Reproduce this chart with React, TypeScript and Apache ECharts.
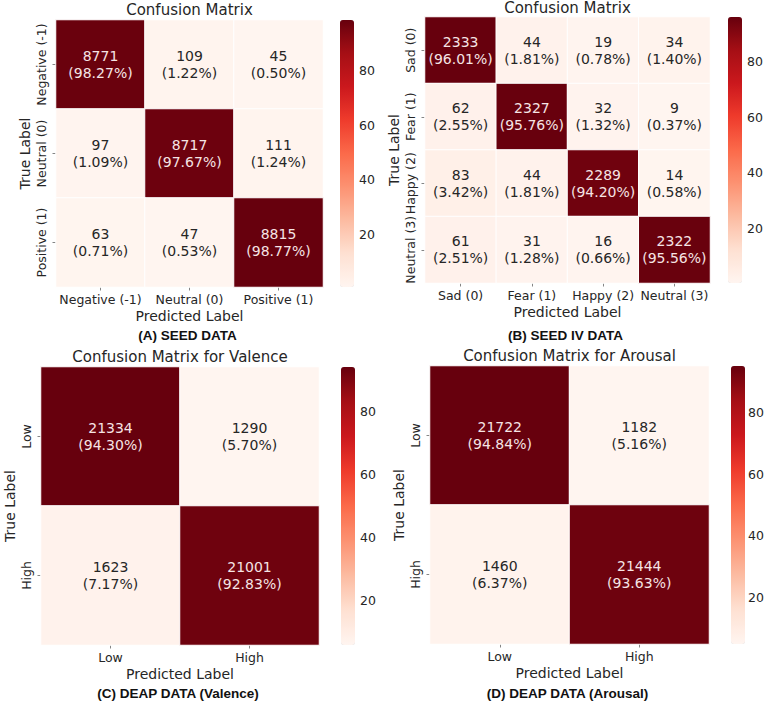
import React, { useEffect, useRef } from "react";
import * as echarts from "echarts";

// ---------- data ----------
const seedClasses = ["Negative (-1)", "Neutral (0)", "Positive (1)"];
const seedCounts = [
  [8771, 109, 45],
  [97, 8717, 111],
  [63, 47, 8815],
];
const seedPct = [
  [98.27, 1.22, 0.5],
  [1.09, 97.67, 1.24],
  [0.71, 0.53, 98.77],
];

const seed4Classes = ["Sad (0)", "Fear (1)", "Happy (2)", "Neutral (3)"];
const seed4Counts = [
  [2333, 44, 19, 34],
  [62, 2327, 32, 9],
  [83, 44, 2289, 14],
  [61, 31, 16, 2322],
];
const seed4Pct = [
  [96.01, 1.81, 0.78, 1.4],
  [2.55, 95.76, 1.32, 0.37],
  [3.42, 1.81, 94.2, 0.58],
  [2.51, 1.28, 0.66, 95.56],
];

const deapClasses = ["Low", "High"];
const valenceCounts = [
  [21334, 1290],
  [1623, 21001],
];
const valencePct = [
  [94.3, 5.7],
  [7.17, 92.83],
];
const arousalCounts = [
  [21722, 1182],
  [1460, 21444],
];
const arousalPct = [
  [94.84, 5.16],
  [6.37, 93.63],
];

const colorbarTicks = [20, 40, 60, 80];
const titles = [
  "Confusion Matrix",
  "Confusion Matrix",
  "Confusion Matrix for Valence",
  "Confusion Matrix for Arousal",
];
const captions = [
  "(A) SEED DATA",
  "(B) SEED IV DATA",
  "(C) DEAP DATA (Valence)",
  "(D) DEAP DATA (Arousal)",
];

// ---------- styles / layout ----------
const REDS = [
  "#fff5f0",
  "#fee0d2",
  "#fcbba1",
  "#fc9272",
  "#fb6a4a",
  "#ef3b2c",
  "#cb181d",
  "#a50f15",
  "#67000d",
];
const TEXT = "#262626";
const LIGHT_TEXT = "#f6e4e4";
const FONT = "DejaVu Sans";

const layouts = [
  { grid: { left: 56, top: 20, width: 267, height: 267 }, bar: { left: 340, top: 20, width: 14, height: 267 }, titleY: 10, capY: 335 },
  { grid: { left: 425, top: 17, width: 285, height: 266 }, bar: { left: 728, top: 17, width: 14, height: 266 }, titleY: 8, capY: 335 },
  { grid: { left: 41, top: 367, width: 278, height: 278 }, bar: { left: 341, top: 367, width: 14, height: 278 }, titleY: 357, capY: 693 },
  { grid: { left: 430, top: 366, width: 279, height: 278 }, bar: { left: 731, top: 366, width: 14, height: 278 }, titleY: 356, capY: 693 },
];

const panels = [
  { classes: seedClasses, counts: seedCounts, pct: seedPct },
  { classes: seed4Classes, counts: seed4Counts, pct: seed4Pct },
  { classes: deapClasses, counts: valenceCounts, pct: valencePct },
  { classes: deapClasses, counts: arousalCounts, pct: arousalPct },
];

function buildOption() {
  const grid: any[] = [];
  const xAxis: any[] = [];
  const yAxis: any[] = [];
  const series: any[] = [];
  const visualMap: any[] = [];
  const graphic: any[] = [];

  panels.forEach((p, i) => {
    const L = layouts[i];
    const flat = p.pct.flat();
    const vmin = Math.min(...flat);
    const vmax = Math.max(...flat);

    grid.push({ ...L.grid, containLabel: false });
    grid.push({ ...L.bar, containLabel: false });

    xAxis.push({
      type: "category",
      gridIndex: 2 * i,
      data: p.classes,
      position: "bottom",
      axisLine: { show: false },
      axisTick: { show: true, alignWithLabel: true, length: 3.5, lineStyle: { color: "#666", width: 0.8 } },
      axisLabel: { margin: 6, fontSize: 12.5, color: TEXT, fontFamily: FONT, interval: 0 },
      splitLine: { show: false },
      name: "Predicted Label",
      nameLocation: "middle",
      nameGap: 22,
      nameTextStyle: { fontSize: 14, color: TEXT, fontFamily: FONT, verticalAlign: "top" },
    });
    xAxis.push({ type: "value", gridIndex: 2 * i + 1, show: false, min: 0, max: 1 });

    yAxis.push({
      type: "category",
      gridIndex: 2 * i,
      data: p.classes,
      inverse: true,
      axisLine: { show: false },
      axisTick: { show: true, alignWithLabel: true, length: 3.5, lineStyle: { color: "#666", width: 0.8 } },
      axisLabel: { margin: 8, fontSize: 12.5, color: TEXT, fontFamily: FONT, rotate: 90, interval: 0 },
      splitLine: { show: false },
      name: "True Label",
      nameLocation: "middle",
      nameGap: 24,
      nameTextStyle: { fontSize: 14, color: TEXT, fontFamily: FONT },
    });
    yAxis.push({
      type: "value",
      gridIndex: 2 * i + 1,
      position: "right",
      min: vmin,
      max: vmax,
      axisLine: { show: false },
      splitLine: { show: false },
      axisTick: { show: true, length: 3.5, customValues: colorbarTicks, lineStyle: { color: "#444", width: 0.8 } },
      axisLabel: { show: true, margin: 5, fontSize: 12.5, color: TEXT, fontFamily: FONT, customValues: colorbarTicks },
    });

    const data: any[] = [];
    p.counts.forEach((row, r) => {
      row.forEach((cnt, c) => {
        const v = p.pct[r][c];
        data.push({
          value: [c, r, v, cnt],
          label: { color: v > 50 ? LIGHT_TEXT : TEXT },
        });
      });
    });

    series.push({
      type: "heatmap",
      xAxisIndex: 2 * i,
      yAxisIndex: 2 * i,
      data,
      itemStyle: { borderColor: "#ffffff", borderWidth: 1 },
      label: {
        show: true,
        fontSize: 14,
        lineHeight: 17,
        fontFamily: FONT,
        formatter: (prm: any) => `${prm.value[3]}\n(${prm.value[2].toFixed(2)}%)`,
      },
      emphasis: { disabled: true },
    });

    visualMap.push({
      type: "continuous",
      seriesIndex: i,
      dimension: 2,
      min: vmin,
      max: vmax,
      inRange: { color: REDS },
      left: L.bar.left,
      top: L.bar.top,
      itemWidth: L.bar.width,
      itemHeight: L.bar.height,
      padding: 0,
      orient: "vertical",
      calculable: false,
      hoverLink: false,
    });

    const cx = L.grid.left + L.grid.width / 2;
    graphic.push({
      type: "text",
      x: cx,
      y: L.titleY,
      style: {
        text: titles[i],
        font: `15px "${FONT}"`,
        fill: TEXT,
        textAlign: "center",
        textVerticalAlign: "middle",
      },
    });
    graphic.push({
      type: "text",
      x: cx - 2,
      y: L.capY,
      style: {
        text: captions[i],
        font: `bold 13.5px "Liberation Sans"`,
        fill: "#111",
        textAlign: "center",
        textVerticalAlign: "middle",
      },
    });
  });

  return {
    animation: false,
    backgroundColor: "#ffffff",
    textStyle: { fontFamily: FONT },
    grid,
    xAxis,
    yAxis,
    series,
    visualMap,
    graphic,
  };
}

export default function App() {
  const ref = useRef<HTMLDivElement>(null);
  useEffect(() => {
    if (!ref.current) return;
    const chart = echarts.init(ref.current, undefined, { renderer: "svg" });
    chart.setOption(buildOption() as any);
    return () => chart.dispose();
  }, []);
  return (
    <div
      ref={ref}
      style={{ position: "absolute", left: 0, top: 0, width: 767, height: 705, background: "#fff" }}
    />
  );
}
